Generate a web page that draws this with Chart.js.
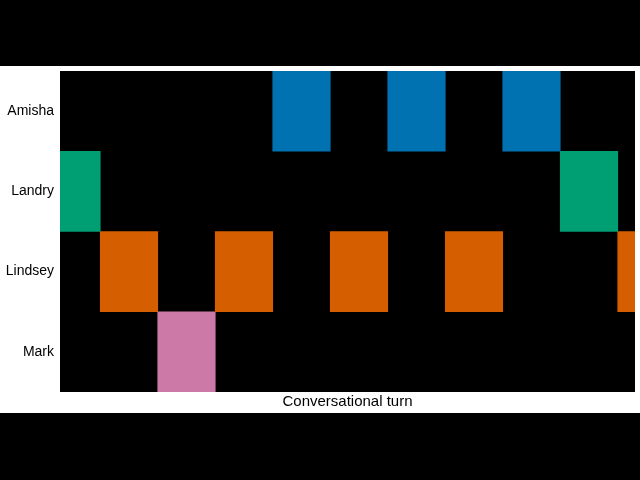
<!DOCTYPE html>
<html>
<head>
<meta charset="utf-8">
<script src="https://cdn.jsdelivr.net/npm/chart.js@4.4.1/dist/chart.umd.min.js"></script>
<style>
  html, body { margin: 0; padding: 0; background: #000; width: 640px; height: 480px; overflow: hidden; }
  #wrap { position: absolute; left: 0; top: 66px; width: 640px; height: 347px; background: #fff; }
</style>
</head>
<body>
<div id="wrap"><canvas id="myChart" width="640" height="347"></canvas></div>
<script>
// speakers shown on the y axis, top to bottom
const speakers = ['Amisha', 'Landry', 'Lindsey', 'Mark'];
const speakerColors = ['#0072B2', '#009E73', '#D55E00', '#CC79A7'];
// who speaks at each turn (turn i fills the cell from i to i+1)
const turns = ['Landry', 'Lindsey', 'Mark', 'Lindsey', 'Amisha', 'Lindsey',
               'Amisha', 'Lindsey', 'Amisha', 'Landry', 'Lindsey'];
const xMin = 0.3, xMax = 10.3;

const datasets = speakers.map(function (name, k) {
  const pts = [];
  turns.forEach(function (who, i) {
    if (who === name) pts.push({ x: [i, i + 1], y: name });
  });
  return {
    label: name,
    data: pts,
    backgroundColor: speakerColors[k],
    borderWidth: 0,
    barPercentage: 1,
    categoryPercentage: 1,
    grouped: false
  };
});

const plotBg = {
  id: 'plotBg',
  beforeDraw(chart) {
    const a = chart.chartArea, c = chart.ctx;
    c.save();
    c.fillStyle = '#000';
    c.fillRect(a.left, a.top, a.right - a.left, a.bottom - a.top);
    c.restore();
  }
};

const ctx = document.getElementById('myChart');
new Chart(ctx, {
  type: 'bar',
  data: { labels: speakers, datasets: datasets },
  plugins: [plotBg],
  options: {
    responsive: false,
    animation: false,
    indexAxis: 'y',
    layout: { padding: { top: 5, right: 5, left: 0, bottom: 0 } },
    plugins: { legend: { display: false }, tooltip: { enabled: false } },
    scales: {
      x: {
        type: 'linear',
        min: xMin,
        max: xMax,
        grid: { display: false },
        border: { display: false },
        ticks: { display: false },
        title: {
          display: true,
          text: 'Conversational turn',
          color: '#000',
          font: { family: 'Liberation Sans', size: 15 },
          padding: { top: 0, bottom: 2 }
        },
        afterFit(s) { s.height = 21; s.paddingLeft = 0; s.paddingRight = 0; }
      },
      y: {
        type: 'category',
        grid: { display: false, drawTicks: false },
        border: { display: false },
        ticks: { color: '#000', font: { family: 'Liberation Sans', size: 14 }, padding: 6 },
        afterFit(s) { s.width = 60; s.paddingTop = 0; s.paddingBottom = 0; }
      }
    }
  }
});
</script>
</body>
</html>
